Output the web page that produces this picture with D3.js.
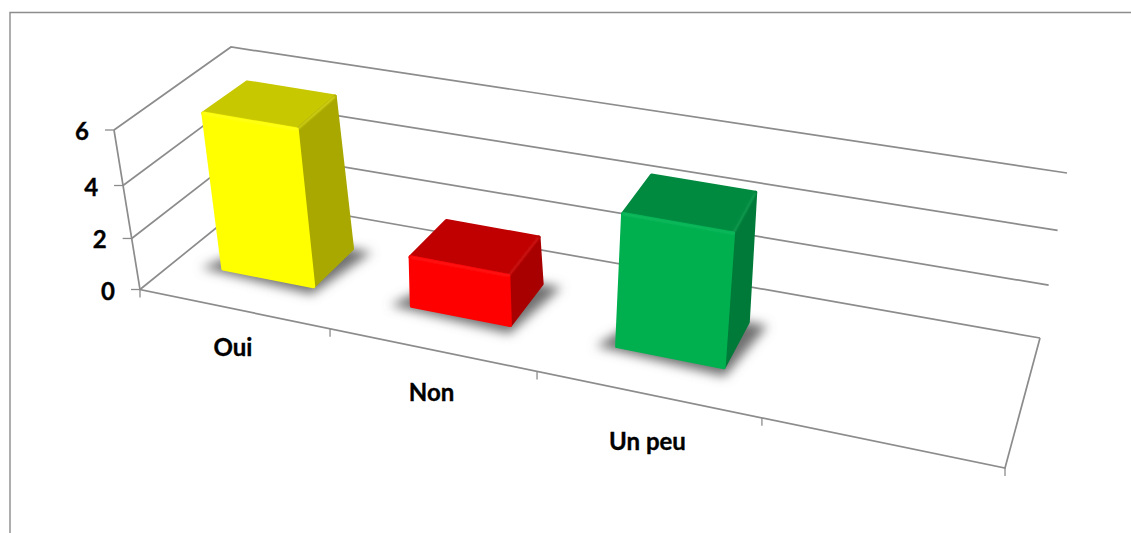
<!DOCTYPE html>
<html><head><meta charset="utf-8">
<script src="https://cdn.jsdelivr.net/npm/d3@7"></script>
<style>html,body{margin:0;padding:0;background:#fff;overflow:hidden}svg{display:block}text{font-family:Lato,"Open Sans",sans-serif;font-weight:700;fill:#000;stroke:#000;stroke-width:.35px}</style>
</head><body><svg id="c" width="1131" height="533"></svg>
<script>
const categories = ["Oui", "Non", "Un peu"];
const values = [6, 2, 5];
const yTicks = [0, 2, 4, 6];
const faceFront = ["#ffff00", "#ff0000", "#00b050"];
const faceTop = ["#c8c800", "#c00000", "#008a40"];
const faceSide = ["#a8a800", "#a80000", "#007a38"];
const edgeLight = ["#ffff30", "#ff2a2a", "#22c46c"];

const grey = "#8c8c8c";
const svg = d3.select("#c");

// Perspective box of the 3D chart: corners [x,y], f=front b=back, l=left r=right, 0=floor 1=top
const box = {
  fl0:[140,289.5], fr0:[1005,468], br0:[1040,338], bl0:[252,199],
  fl1:[114,130],   fr1:[1038,296], br1:[1067,173], bl1:[231,47]
};
const lerp = (a,b,t)=>[a[0]+(b[0]-a[0])*t, a[1]+(b[1]-a[1])*t];
// category position along the floor, foreshortened by perspective
const u = d3.scaleLinear().domain([0,1,2,3,4]).range([0,.2197,.459,.719,1]);
const v = d3.scaleLinear().domain([0,2,4,6]).range([0,.32,.652,1]);
function P(t,d,h){
  const f = lerp(lerp(box.fl0,box.fr0,t), lerp(box.fl1,box.fr1,t), h);
  const b = lerp(lerp(box.bl0,box.br0,t), lerp(box.bl1,box.br1,t), h);
  return lerp(f,b,d);
}
const line = d3.line();
const defs = svg.append("defs");
defs.append("filter").attr("id","sh").attr("x","-40%").attr("y","-60%").attr("width","180%").attr("height","220%")
  .append("feGaussianBlur").attr("stdDeviation",5.5);
defs.append("filter").attr("id","soft").attr("x","-10%").attr("y","-10%").attr("width","120%").attr("height","120%")
  .append("feGaussianBlur").attr("stdDeviation",0.55);
defs.append("filter").attr("id","edge").attr("x","-20%").attr("y","-20%").attr("width","140%").attr("height","140%")
  .append("feGaussianBlur").attr("stdDeviation",0.8);

// chart border
svg.append("path").attr("d","M10,533V12.5H1131").attr("fill","none").attr("stroke",grey).attr("stroke-width",1.4);

// walls, gridlines, floor
const g = svg.append("g").attr("fill","none").attr("stroke",grey).attr("stroke-width",1.7);
yTicks.forEach(y=>{
  const h=v(y);
  g.append("path").attr("d",line([P(0,0,h),P(0,1,h),P(1,1,h)]));
  const p=P(0,0,h);
  g.append("path").attr("d",line([[p[0]-9,p[1]],p])).attr("stroke-width",1.3);
});
g.append("path").attr("d",line([P(0,0,1),P(0,0,0),P(1,0,0),P(1,1,0)]));
d3.range(0,5).forEach(i=>{
  const p=P(u(i),0,0);
  g.append("path").attr("d",line([p,[p[0],p[1]+8]])).attr("stroke-width",1.3);
});

// bars
const d0=.33, d1=.72, topFront=.31, topBack=.68, gapIn=.25, gapOut=.74;
const bars = svg.append("g");
categories.forEach((c,i)=>{
  const t0=u(i+gapIn), t1=u(i+gapOut), h=v(values[i]);
  const tf=t0+.004, tb=t0+.007, tr=t1+.001;
  const b=bars.append("g");
  // cast shadow on the floor
  b.append("path").attr("d",line([P(t0-.022,d0-.03,0),P(t1+.006,d0-.07,0),P(t1+.024,d1,0),P(t0+.02,d1,0)])+"Z")
    .attr("fill","#707070").attr("filter","url(#sh)");
  const face=(pts,col)=>b.append("path").attr("d",line(pts)+"Z").attr("fill",col).attr("stroke",col)
    .attr("stroke-width",3.6).attr("stroke-linejoin","round").attr("filter","url(#soft)");
  face([P(tf,topFront,h),P(tr,topFront,h),P(tr,topBack,h),P(tb,topBack,h)],faceTop[i]);
  face([P(t1,d0,0),P(t1,d1,0),P(tr,topBack,h),P(tr,topFront,h)],faceSide[i]);
  face([P(t0,d0,0),P(t1,d0,0),P(tr,topFront,h),P(tf,topFront,h)],faceFront[i]);
  b.append("path").attr("d",line([P(tf,topFront,h),P(tr,topFront,h),P(tr,topBack,h)])).attr("fill","none")
    .attr("stroke",edgeLight[i]).attr("stroke-width",1.2).attr("stroke-linejoin","round").attr("filter","url(#edge)");
});

// value labels
const labels=svg.append("g").attr("font-size",24);
yTicks.forEach(y=>{
  const p=P(0,0,v(y));
  labels.append("text").attr("x",p[0]-25).attr("y",p[1]+10).attr("text-anchor","end").text(y);
});
// category labels
const labelDrop=d3.scaleLinear().domain([0,1]).range([45,63]);
categories.forEach((c,i)=>{
  const t=u(i+.5), p=P(t,0,0);
  labels.append("text").attr("x",p[0]-2).attr("y",p[1]+labelDrop(t)).attr("text-anchor","middle").text(c);
});
</script></body></html>
